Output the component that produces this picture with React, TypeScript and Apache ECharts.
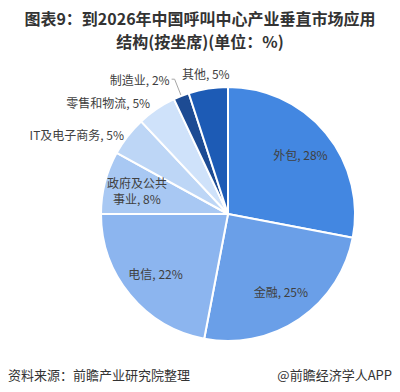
import React, { useEffect, useRef } from "react";
import * as echarts from "echarts";

const categories = ["外包", "金融", "电信", "政府及公共\n事业", "IT及电子商务", "零售和物流", "制造业", "其他"];
const values = [28, 25, 22, 8, 5, 5, 2, 5];
const colors = ["#4387e1", "#6a9fe8", "#8cb5ef", "#a8c8f3", "#bdd6f6", "#cfe2fa", "#1d4b93", "#1d5bb5"];
// where each label sits: "in" = inside the slice, "out" = outside the pie, "top" = above the pie
const labelPlaces = ["in", "in", "in", "in", "out", "out", "out", "top"];
const titleLines = ["图表9：到2026年中国呼叫中心产业垂直市场应用", "结构(按坐席)(单位：%)"];

export default function App() {
  const ref = useRef<HTMLDivElement>(null);
  useEffect(() => {
    if (!ref.current) return;
    const chart = echarts.init(ref.current, null, { renderer: "svg" });
    const font = "'Noto Sans CJK SC', 'Microsoft YaHei', sans-serif";
    const lineLen = [0, 0, 0, 0, 2, 8, 18, 0];
    const mainData = categories.map((name, i) => ({
      name,
      value: values[i],
      itemStyle: { color: colors[i] },
      label: labelPlaces[i] === "out" ? { show: true, position: "outside" } : { show: false },
      labelLine:
        name === "制造业"
          ? { show: true, length: lineLen[i], length2: 3, lineStyle: { color: "#a6a6a6", width: 1 } }
          : { show: false, length: lineLen[i], length2: 0 },
    }));
    const overlay = (place: string) =>
      categories.map((name, i) => ({
        name,
        value: values[i],
        label: { show: labelPlaces[i] === place },
      }));
    const labelStyle = {
      formatter: "{b}, {c}%",
      fontFamily: font,
      fontSize: 12,
      color: "#404040",
      lineHeight: 16,
    };
    const titleStyle = { fontFamily: font, fontSize: 16, fontWeight: "bold", color: "#333333", lineHeight: 18 };
    chart.setOption({
      animation: false,
      title: [
        { text: titleLines[0], left: "center", top: 4, padding: [5, 5, 0, 5], textStyle: titleStyle },
        { text: titleLines[1], left: "center", top: 27, padding: [5, 5, 0, 5], textStyle: titleStyle },
      ],
      graphic: [
        {
          type: "text",
          left: 8,
          top: 368,
          style: { text: "资料来源：前瞻产业研究院整理", fontFamily: font, fontSize: 13, fill: "#333333" },
        },
        {
          type: "text",
          right: 8,
          top: 368,
          style: { text: "@前瞻经济学人APP", fontFamily: font, fontSize: 13, fill: "#333333" },
        },
      ],
      series: [
        {
          type: "pie",
          center: [228, 214],
          radius: [0, 127],
          startAngle: 90,
          clockwise: true,
          avoidLabelOverlap: false,
          itemStyle: { borderColor: "#ffffff", borderWidth: 2 },
          label: { ...labelStyle, distanceToLabelLine: 2 },
          emphasis: { disabled: true },
          data: mainData,
        },
        {
          type: "pie",
          center: [228, 214],
          radius: [0, 182],
          startAngle: 90,
          clockwise: true,
          silent: true,
          itemStyle: { color: "rgba(0,0,0,0)", borderWidth: 0 },
          label: { ...labelStyle, position: "inside", align: "center" },
          labelLine: { show: false },
          emphasis: { disabled: true },
          data: overlay("in"),
        },
        {
          type: "pie",
          center: [228, 214],
          radius: [0, 278],
          startAngle: 90,
          clockwise: true,
          silent: true,
          itemStyle: { color: "rgba(0,0,0,0)", borderWidth: 0 },
          label: { ...labelStyle, position: "inside", align: "center" },
          labelLine: { show: false },
          emphasis: { disabled: true },
          data: overlay("top"),
        },
      ],
    });
    return () => chart.dispose();
  }, []);
  return <div ref={ref} style={{ position: "absolute", left: 0, top: 0, width: 400, height: 392, background: "#fff" }} />;
}
